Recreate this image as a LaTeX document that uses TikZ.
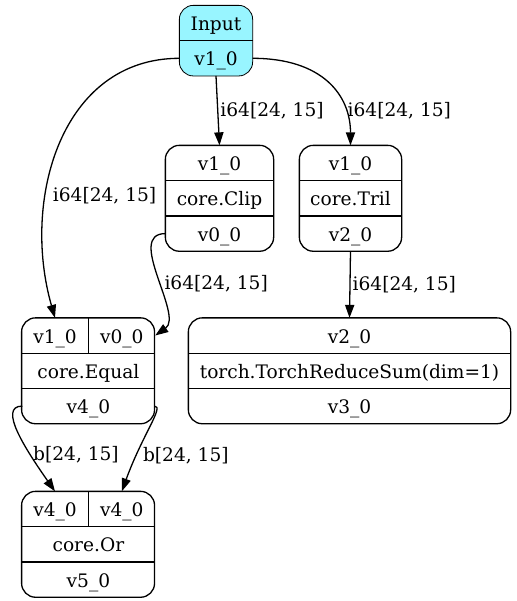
\documentclass[tikz,border=0pt]{standalone}
\usepackage{fontspec}
\setmainfont{DejaVu Serif}
\usetikzlibrary{arrows.meta,positioning,backgrounds}
\definecolor{inputcyan}{HTML}{98F5FF}
\tikzset{
  field/.style={rectangle, inner sep=0pt, minimum height=17pt, text height=8.5pt, text depth=1pt, font=\fontsize{9.3pt}{11pt}\selectfont},
  box/.style={draw, rounded corners=7pt},
  flow/.style={-{Triangle[length=6.5pt,width=4.6pt]}},
  lbl/.style={inner sep=1pt, font=\fontsize{9.3pt}{11pt}\selectfont}
}
\begin{document}
\begin{tikzpicture}[line width=0.65pt]
    \useasboundingbox (0,0) rectangle (258pt,-300.5pt);
    % input record
    \node(inhead) [field, minimum width=36pt] at (108pt,-11.5pt) {Input};
    \node(inv) [field, minimum width=36pt, below=0pt of inhead] {v1\_0};
    % clip and tril
    \node(clipin) [field, minimum width=53.5pt] at (109.75pt,-81.5pt) {v1\_0};
    \node(clipop) [field, minimum width=53.5pt, below=0pt of clipin] {core.Clip};
    \node(clipout) [field, minimum width=53.5pt, below=0pt of clipop] {v0\_0};
    \node(trilin) [field, minimum width=50.5pt] at (175.25pt,-81.5pt) {v1\_0};
    \node(trilop) [field, minimum width=50.5pt, below=0pt of trilin] {core.Tril};
    \node(trilout) [field, minimum width=50.5pt, below=0pt of trilop] {v2\_0};
    % equal and reduce sum
    \node(eqa) [field, minimum width=32.75pt] at (27.5pt,-167.75pt) {v1\_0};
    \node(eqb) [field, minimum width=32.75pt, right=0pt of eqa] {v0\_0};
    \node(eqop) [field, minimum width=65.5pt, below=0pt of eqa.south east] {core.Equal};
    \node(eqout) [field, minimum width=65.5pt, below=0pt of eqop] {v4\_0};
    \node(sumin) [field, minimum width=160.5pt] at (174.75pt,-167.75pt) {v2\_0};
    \node(sumop) [field, minimum width=160.5pt, below=0pt of sumin] {torch.TorchReduceSum(dim=1)};
    \node(sumout) [field, minimum width=160.5pt, below=0pt of sumop] {v3\_0};
    % or
    \node(ora) [field, minimum width=32.75pt] at (27.5pt,-254.5pt) {v4\_0};
    \node(orb) [field, minimum width=32.75pt, right=0pt of ora] {v4\_0};
    \node(orop) [field, minimum width=65.5pt, below=0pt of ora.south east] {core.Or};
    \node(orout) [field, minimum width=65.5pt, below=0pt of orop] {v5\_0};

    \begin{scope}[on background layer]
      \draw[box, fill=inputcyan] (inhead.north west) rectangle (inv.south east);
    \end{scope}
    \draw[box] (clipin.north west) rectangle (clipout.south east);
    \draw[box] (trilin.north west) rectangle (trilout.south east);
    \draw[box] (eqa.north west) rectangle (eqout.south east);
    \draw[box] (sumin.north west) rectangle (sumout.south east);
    \draw[box] (ora.north west) rectangle (orout.south east);
    \foreach \f in {inhead, clipin, clipop, trilin, trilop, eqa, eqb, eqop, sumin, sumop, ora, orb, orop}
      \draw (\f.south west) -- (\f.south east);
    \foreach \f in {eqa, ora}
      \draw (\f.north east) -- (\f.south east);

    \draw[flow] (inv.west) to[out=180,in=106,out distance=59pt,in distance=61.5pt] node[lbl, pos=0.66, right=2pt]{i64[24, 15]} (eqa.north);
    \draw[flow] (inv.south) -- node[lbl, right]{i64[24, 15]} (clipin.north);
    \draw[flow] (inv.east) to[out=0,in=90,out distance=35pt,in distance=25pt] node[lbl, pos=0.75, right]{i64[24, 15]} (trilin.north);
    \draw[flow] (clipout.west) to[out=180,in=35,out distance=20pt,in distance=17.5pt] node[lbl, pos=0.55, right=2pt]{i64[24, 15]} (eqb.east);
    \draw[flow] (trilout.south) -- node[lbl, right]{i64[24, 15]} (sumin.north);
    \draw[flow] (eqout.west) to[out=180,in=125,out distance=12.5pt,in distance=25pt] node[lbl, pos=0.7, right]{b[24, 15]} (ora.north);
    \draw[flow] (eqout.east) to[out=0,in=70,out distance=5pt,in distance=30pt] node[lbl, pos=0.76, right=2pt]{b[24, 15]} (orb.north);
\end{tikzpicture}
\end{document}
